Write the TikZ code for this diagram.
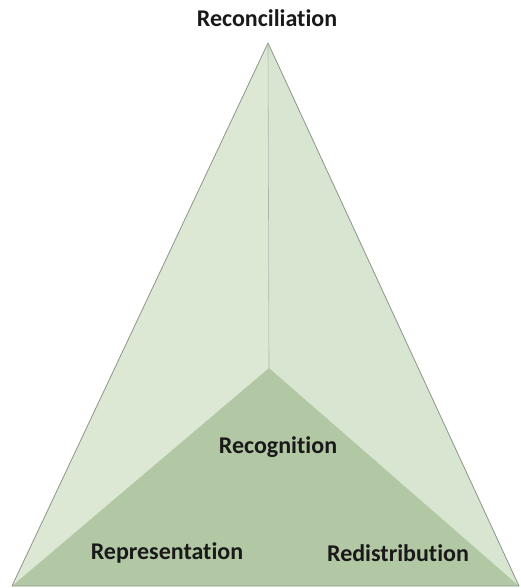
\documentclass[tikz,border=0pt]{standalone}
\usepackage{fontspec}
\setmainfont[Ligatures={NoCommon}]{Carlito}
\definecolor{lightface}{RGB}{220,232,212}
\definecolor{lightface2}{RGB}{216,229,208}
\definecolor{darkface}{RGB}{178,199,164}
\definecolor{edgegray}{RGB}{140,150,136}
\definecolor{txt}{RGB}{25,25,25}
\begin{document}
\begin{tikzpicture}[x=1pt,y=-1pt,
  face/.style={draw=edgegray,line width=0.8pt,line join=round},
  lbl/.style={text=txt,font=\bfseries\fontsize{24}{28}\selectfont,inner sep=0pt}]
\useasboundingbox (0,0) rectangle (520,588);
\coordinate (apex) at (268,43);
\coordinate (mid) at (269,368);
\coordinate (bl) at (12,586);
\coordinate (br) at (519,586);
\fill[lightface] (apex) -- (mid) -- (bl) -- cycle;
\fill[lightface2] (apex) -- (mid) -- (br) -- cycle;
\fill[darkface] (mid) -- (bl) -- (br) -- cycle;
\draw[face] (apex) -- (bl) -- (br) -- cycle;
\draw[edgegray!70,line width=0.6pt] (apex) -- (mid);
\node[lbl] (rec) at (267,18) {Reconciliation};
\node[lbl] (recog) at (278,447) {Recognition};
\node[lbl] (rep) at (167,553) {Representation};
\node[lbl] (red) at (398,553) {Redistribution};
\end{tikzpicture}
\end{document}
